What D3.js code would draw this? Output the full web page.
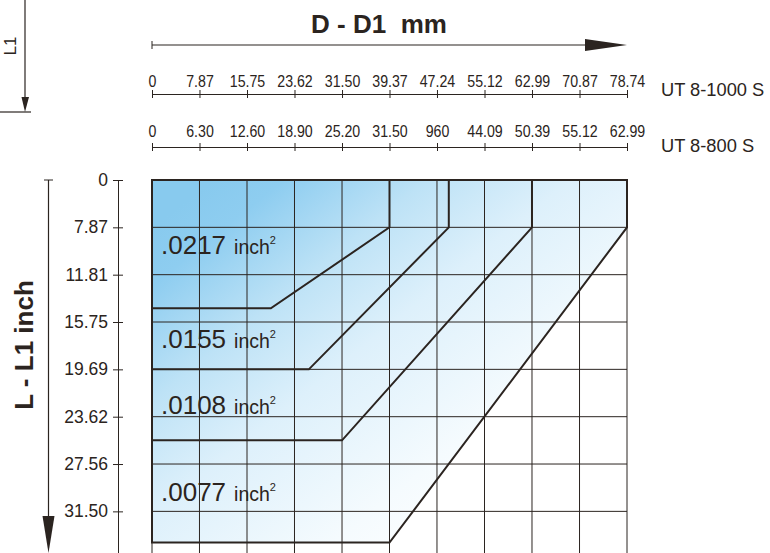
<!DOCTYPE html>
<html>
<head>
<meta charset="utf-8">
<script src="https://cdn.jsdelivr.net/npm/d3@7"></script>
<style>
  html, body { margin: 0; padding: 0; background: #fff; }
  svg { display: block; }
  text { font-family: "Liberation Sans", Arial, Helvetica, sans-serif; fill: #2b2420; }
</style>
</head>
<body>
<svg id="chart" width="770" height="553"></svg>
<script>
// Diameter ticks (mm) for the two machine sizes
const ticksUT1000 = [0, 7.87, 15.75, 23.62, 31.50, 39.37, 47.24, 55.12, 62.99, 70.87, 78.74];
const labelsUT800 = ["0", "6.30", "12.60", "18.90", "25.20", "31.50", "960", "44.09", "50.39", "55.12", "62.99"];
// Length ticks (inch), one per grid row
const lengthLabels = ["0", "7.87", "11.81", "15.75", "19.69", "23.62", "27.56", "31.50"];

// Cross-section zones: corner points as [D (mm on UT 8-1000 scale), L (grid rows)]
const zoneNames = [".0077", ".0108", ".0155", ".0217"];
const zoneOutlines = [
  [[0, 0], [78.74, 0], [78.74, 1], [39.37, 7.66], [0, 7.66]],
  [[0, 0], [62.99, 0], [62.99, 1], [31.50, 5.5], [0, 5.5]],
  [[0, 0], [49.2, 0], [49.2, 1], [26.0, 4.0], [0, 4.0]],
  [[0, 0], [39.37, 0], [39.37, 1], [19.7, 2.71], [0, 2.71]]
];

const ink = "#2b2420";
const svg = d3.select("#chart");

const x = d3.scaleLinear().domain([0, 78.74]).range([152, 627]);
const y = d3.scaleLinear().domain([0, 8]).range([180, 558.7]);
const x800 = d3.scalePoint().domain(labelsUT800).range([152, 627]);

// Background gradient for the zones
const defs = svg.append("defs");
const grad = defs.append("linearGradient")
  .attr("id", "zoneFill")
  .attr("gradientUnits", "userSpaceOnUse")
  .attr("x1", 200).attr("y1", 190).attr("x2", 480).attr("y2", 540);
[[0, "#88caee"], [0.1, "#8ecdf0"], [0.3, "#bde2f6"], [0.5, "#ddf0fb"], [0.8, "#f5fbfe"], [1, "#ffffff"]]
  .forEach(([o, c]) => grad.append("stop").attr("offset", o).attr("stop-color", c));

const line = d3.line().x(d => x(d[0])).y(d => y(d[1]));

// Filled area (largest zone contains the others)
svg.append("path")
  .attr("d", line(zoneOutlines[0]) + "Z")
  .attr("fill", "url(#zoneFill)");

// Grid
const grid = svg.append("g").attr("stroke", ink).attr("stroke-width", 1).attr("fill", "none");
grid.selectAll("line.v").data(ticksUT1000).join("line")
  .attr("x1", d => x(d)).attr("x2", d => x(d))
  .attr("y1", y(0)).attr("y2", 553);
grid.selectAll("line.h").data(d3.range(lengthLabels.length)).join("line")
  .attr("x1", x(0)).attr("x2", x(78.74))
  .attr("y1", d => y(d)).attr("y2", d => y(d));

// Zone outlines
svg.append("g").selectAll("path").data(zoneOutlines).join("path")
  .attr("d", d => line(d) + "Z")
  .attr("fill", "none")
  .attr("stroke", ink)
  .attr("stroke-width", 2)
  .attr("stroke-linejoin", "miter");

// Zone labels, centred in the band below the previous zone's bottom edge
const zoneBottoms = zoneOutlines.map(o => o[o.length - 1][1]);
const zoneLabels = svg.append("g");
zoneNames.forEach((name, i) => {
  const lower = zoneBottoms[i];
  const upper = i + 1 < zoneBottoms.length ? zoneBottoms[i + 1] : 0;
  const t = zoneLabels.append("text")
    .attr("x", x(0) + 9)
    .attr("y", y((lower + upper) / 2) + 9.5);
  t.append("tspan").attr("font-size", 26).text(name);
  t.append("tspan").attr("font-size", 19.5).attr("dx", 8).text("inch");
  t.append("tspan").attr("font-size", 11).attr("dy", -10).text("2");
});

// Top axes
function styleTopAxis(labelOffset) {
  return g => {
    g.select(".domain").attr("stroke", ink).attr("stroke-width", 1);
    g.selectAll(".tick line").attr("stroke", ink).attr("y1", -4).attr("y2", 4);
    g.selectAll(".tick text")
      .attr("font-size", 16.5)
      .attr("font-family", "'Liberation Sans', Arial, sans-serif")
      .attr("fill", ink)
      .attr("y", labelOffset)
      .attr("transform", "scale(0.86,1)");
  };
}
svg.append("g").attr("transform", "translate(0,94)")
  .call(d3.axisTop(x).tickValues(ticksUT1000)
    .tickFormat(d => d === 0 ? "0" : d.toFixed(2)).tickSize(0).tickSizeOuter(0))
  .call(styleTopAxis(-7));
svg.append("g").attr("transform", "translate(0,147)")
  .call(d3.axisTop(x800).tickSize(0).tickSizeOuter(0))
  .call(styleTopAxis(-10));

svg.append("text").attr("x", 661).attr("y", 96).attr("font-size", 18.3).text("UT 8-1000 S");
svg.append("text").attr("x", 661).attr("y", 152).attr("font-size", 18.3).text("UT 8-800 S");

// Left axis
const yAxis = svg.append("g").attr("transform", "translate(118,0)")
  .call(d3.axisLeft(y).tickValues(d3.range(lengthLabels.length))
    .tickFormat(i => lengthLabels[i]).tickSize(0).tickSizeOuter(0));
yAxis.select(".domain").attr("stroke", ink);
yAxis.selectAll(".tick line").attr("stroke", ink).attr("x1", -5).attr("x2", 5);
yAxis.selectAll(".tick text")
  .attr("font-size", 17.5)
  .attr("font-family", "'Liberation Sans', Arial, sans-serif")
  .attr("fill", ink)
  .attr("x", -10);

// Title arrow: D - D1 mm
const arrows = svg.append("g").attr("stroke", ink).attr("fill", ink);
arrows.append("line").attr("x1", x(0)).attr("x2", 590).attr("y1", 45).attr("y2", 45).attr("stroke-width", 1.2);
arrows.append("line").attr("x1", x(0)).attr("x2", x(0)).attr("y1", 41).attr("y2", 49);
arrows.append("path").attr("stroke", "none").attr("d", "M585,39L627,45L585,51Z");
svg.append("text").attr("x", 379).attr("y", 33).attr("text-anchor", "middle")
  .attr("font-size", 26).attr("font-weight", "bold").style("white-space", "pre")
  .text("D - D1  mm");

// Length arrow: L - L1 inch
arrows.append("line").attr("x1", 48.5).attr("x2", 48.5).attr("y1", y(0)).attr("y2", 520).attr("stroke-width", 1.2);
arrows.append("line").attr("x1", 44).attr("x2", 53).attr("y1", y(0)).attr("y2", y(0));
arrows.append("path").attr("stroke", "none").attr("d", "M42.5,516L54.5,516L48.5,553Z");
svg.append("text").attr("transform", "translate(33,345) rotate(-90)")
  .attr("text-anchor", "middle").attr("font-size", 26).attr("font-weight", "bold")
  .text("L - L1 inch");

// L1 marker in the corner
arrows.append("line").attr("x1", 25).attr("x2", 25).attr("y1", 0).attr("y2", 100).attr("stroke-width", 1.2);
arrows.append("path").attr("stroke", "none").attr("d", "M21.5,97L29,97L25,112Z");
arrows.append("line").attr("x1", 0).attr("x2", 31).attr("y1", 112).attr("y2", 112).attr("stroke-width", 1.2);
svg.append("text").attr("transform", "translate(16,46) rotate(-90)")
  .attr("text-anchor", "middle").attr("font-size", 17).text("L1");
</script>
</body>
</html>
